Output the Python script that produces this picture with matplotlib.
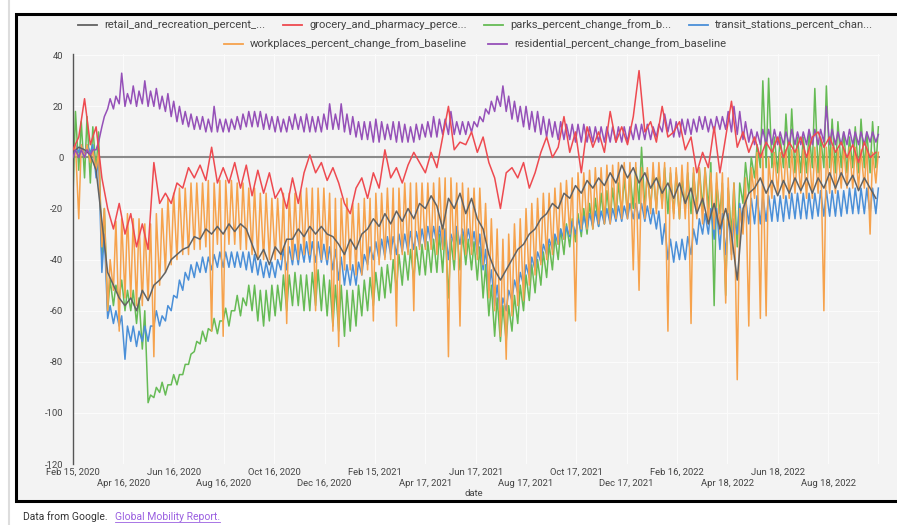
import numpy as np
import pandas as pd
import matplotlib
matplotlib.use("Agg")
import matplotlib.pyplot as plt
from matplotlib.lines import Line2D
from matplotlib.patches import Rectangle

plt.rcParams["font.family"] = ["Roboto", "DejaVu Sans"]

# readings, one row per 10 weeks, first week starts Feb 15, 2020
start_date = "2020-02-15"

# smoother series: one reading per week
retail = [
    2, 4, 3, 1, -5, -25, -45, -50, -55, -58,
    -55, -60, -52, -56, -50, -48, -45, -40, -38, -36,
    -35, -31, -32, -28, -30, -27, -30, -26, -29, -26,
    -28, -34, -40, -36, -42, -35, -38, -32, -32, -28,
    -31, -27, -30, -27, -30, -31, -34, -38, -32, -36,
    -30, -28, -24, -27, -22, -26, -21, -25, -20, -24,
    -18, -20, -15, -19, -28, -16, -20, -14, -22, -16,
    -24, -28, -38, -44, -48, -44, -40, -36, -34, -30,
    -28, -24, -22, -18, -20, -14, -16, -11, -14, -9,
    -12, -8, -11, -6, -10, -3, -8, -4, -10, -6,
    -12, -8, -14, -10, -16, -10, -18, -12, -22, -16,
    -26, -18, -28, -20, -30, -48, -20, -14, -12, -8,
    -14, -9, -15, -9, -14, -8, -13, -8, -14, -8,
    -12, -6, -12, -6, -11, -7, -13, -8, -12, -16,
]

grocery = [
    3, 8, 23, 5, 12, -8, -20, -28, -18, -30,
    -22, -35, -26, -36, -2, -18, -14, -18, -10, -12,
    -4, -8, -3, -9, 4, -10, -4, -10, -2, -12,
    -3, -15, -5, -14, -6, -16, -12, -20, -8, -18,
    -6, 1, -6, -2, -9, -4, -10, -18, -22, -12,
    -8, -16, -6, -12, 3, -8, -4, -10, -3, 2,
    -2, -6, 2, -4, 8, 20, 3, 6, 5, 10,
    2, 8, -2, -8, -20, -6, -4, -8, -2, -12,
    -6, 2, 8, 0, 4, 16, 2, 10, -6, 12,
    4, 10, 2, 18, 6, 12, 5, 16, 34, 10,
    14, 6, 20, 8, 10, 14, 3, 8, -6, 2,
    -4, 12, -6, 8, 22, 4, 10, 2, 8, 0,
    6, 2, 8, 0, 6, 2, 8, 0, 8, 10,
    4, 8, 2, 6, 0, 5, -2, 6, 0, 2,
]

# series with a strong weekly swing: lower and upper edge for every week
parks_upper = [
    18, 14, 16, 12, 10, -20, -48, -50, -48, -52,
    -52, -55, -60, -93, -90, -88, -89, -85, -85, -81,
    -77, -72, -68, -67, -63, -64, -59, -60, -54, -55,
    -50, -50, -52, -52, -50, -50, -46, -46, -45, -46,
    -46, -45, -44, -46, -48, -50, -50, -52, -52, -50,
    -48, -47, -45, -43, -42, -40, -38, -37, -36, -35,
    -34, -33, -32, -30, -28, -32, -28, -30, -32, -33,
    -35, -42, -50, -55, -58, -58, -54, -50, -46, -42,
    -40, -37, -34, -31, -28, -26, -24, -22, -20, -18,
    -16, -14, -13, -12, -10, -8, -6, -4, 4, -6,
    -6, -6, -4, -6, -6, -8, -6, -6, -4, -4,
    -2, -10, -10, -12, -10, -10, -2, 0, 5, 30,
    31, 8, 8, 17, 19, 8, 8, 10, 27, 8,
    28, 15, 14, 10, 8, 12, 15, 10, 14, 12,
]
parks_lower = [
    -15, -5, -8, -10, -5, -40, -60, -58, -55, -60,
    -60, -65, -75, -96, -94, -92, -93, -89, -89, -85,
    -81, -76, -73, -72, -68, -69, -64, -66, -60, -62,
    -58, -60, -64, -66, -64, -62, -60, -60, -58, -58,
    -60, -60, -58, -60, -62, -66, -68, -70, -68, -66,
    -62, -60, -58, -56, -55, -53, -52, -50, -48, -48,
    -46, -46, -45, -45, -45, -55, -44, -44, -42, -44,
    -48, -55, -62, -70, -72, -72, -68, -65, -60, -56,
    -53, -50, -47, -44, -40, -38, -35, -33, -31, -30,
    -28, -27, -26, -25, -24, -22, -22, -20, -18, -20,
    -20, -20, -18, -22, -22, -24, -20, -22, -20, -20,
    -20, -58, -22, -54, -30, -35, -18, -14, -8, -4,
    -4, -4, -6, -4, -4, -6, -6, -6, -4, -6,
    -4, -4, -6, -4, -6, -4, -6, -4, -6, -4,
]

transit_upper = [
    5, 5, 5, 5, 0, -30, -58, -60, -62, -66,
    -66, -68, -66, -66, -60, -62, -58, -54, -48, -45,
    -42, -41, -39, -39, -38, -37, -37, -37, -37, -37,
    -37, -38, -40, -41, -41, -40, -36, -35, -34, -34,
    -33, -33, -33, -34, -35, -36, -39, -42, -42, -41,
    -38, -35, -33, -32, -31, -31, -30, -30, -29, -29,
    -28, -27, -27, -27, -28, -30, -27, -28, -28, -29,
    -30, -36, -44, -50, -55, -52, -48, -45, -42, -39,
    -37, -34, -32, -30, -28, -27, -25, -24, -23, -22,
    -21, -21, -20, -20, -19, -19, -18, -18, -18, -19,
    -20, -21, -26, -32, -33, -32, -31, -28, -24, -22,
    -20, -20, -22, -22, -24, -18, -16, -16, -15, -15,
    -15, -15, -15, -15, -14, -14, -14, -14, -14, -13,
    -13, -13, -13, -13, -12, -12, -12, -12, -12, -12,
]
transit_lower = [
    0, 2, 1, 2, -8, -45, -63, -65, -66, -79,
    -72, -74, -72, -72, -66, -66, -64, -60, -55, -52,
    -48, -47, -45, -45, -44, -43, -43, -43, -43, -43,
    -44, -45, -46, -47, -47, -47, -44, -44, -42, -42,
    -41, -41, -41, -41, -42, -44, -48, -50, -50, -50,
    -46, -42, -40, -40, -39, -38, -38, -37, -37, -36,
    -35, -35, -34, -34, -35, -40, -34, -34, -34, -35,
    -38, -44, -52, -58, -62, -60, -56, -53, -50, -47,
    -44, -41, -38, -36, -34, -32, -31, -30, -29, -28,
    -27, -27, -26, -26, -25, -25, -24, -24, -24, -25,
    -26, -28, -34, -40, -41, -40, -40, -38, -34, -30,
    -30, -32, -36, -38, -38, -30, -27, -26, -26, -26,
    -25, -25, -25, -25, -24, -24, -24, -24, -24, -23,
    -23, -23, -23, -23, -22, -22, -22, -22, -22, -22,
]

workplaces_upper = [
    5, 5, 5, 3, 2, -20, -40, -25, -24, -22,
    -24, -24, -26, -26, -22, -20, -16, -14, -12, -12,
    -10, -10, -10, -9, -10, -9, -9, -9, -10, -10,
    -12, -12, -14, -14, -16, -16, -14, -14, -14, -13,
    -12, -12, -12, -12, -14, -16, -16, -16, -18, -18,
    -16, -16, -14, -14, -12, -12, -12, -10, -10, -10,
    -10, -10, -10, -8, -8, -8, -10, -10, -12, -12,
    -12, -18, -24, -28, -32, -30, -26, -24, -20, -18,
    -16, -14, -14, -12, -10, -9, -8, -6, -6, -5,
    -4, -4, -3, -3, -2, -2, -2, -2, -4, -4,
    -2, -2, -2, -4, -4, -3, -2, -4, -4, -4,
    -6, -6, -6, -8, -10, -20, -8, -4, 2, 2,
    0, 2, 2, 3, 3, 3, 3, 4, 4, 4,
    4, 4, 3, 4, 4, 4, 3, 4, 2, 2,
]
workplaces_lower = [
    0, -24, 0, -2, -5, -35, -60, -52, -68, -55,
    -55, -58, -58, -56, -78, -50, -45, -42, -40, -38,
    -38, -36, -36, -35, -68, -34, -70, -34, -34, -36,
    -36, -38, -40, -40, -40, -40, -40, -65, -40, -40,
    -38, -38, -60, -40, -40, -68, -74, -44, -44, -46,
    -46, -44, -64, -42, -40, -40, -66, -38, -38, -60,
    -36, -36, -36, -38, -36, -78, -40, -66, -38, -38,
    -40, -42, -55, -60, -70, -79, -62, -58, -56, -50,
    -46, -42, -40, -38, -34, -32, -30, -64, -28, -28,
    -28, -26, -26, -26, -24, -24, -24, -44, -52, -24,
    -22, -22, -20, -68, -24, -24, -24, -65, -24, -26,
    -26, -28, -30, -57, -40, -87, -30, -66, -16, -63,
    -62, -16, -14, -16, -16, -14, -14, -16, -16, -14,
    -60, -14, -14, -12, -12, -12, -12, -12, -30, -10,
]

residential_upper = [
    3, 3, 3, 3, 6, 16, 23, 24, 33, 25,
    28, 26, 30, 26, 27, 24, 25, 22, 20, 18,
    17, 16, 16, 15, 20, 15, 15, 15, 16, 17,
    18, 18, 18, 17, 16, 16, 15, 16, 17, 16,
    17, 16, 16, 17, 21, 17, 21, 17, 16, 14,
    14, 14, 15, 14, 13, 14, 14, 13, 12, 13,
    13, 14, 16, 15, 15, 18, 14, 14, 14, 14,
    16, 19, 22, 24, 28, 24, 22, 20, 20, 18,
    18, 16, 15, 14, 14, 13, 13, 13, 13, 12,
    12, 12, 12, 12, 12, 12, 12, 13, 13, 13,
    12, 13, 17, 15, 14, 15, 15, 15, 16, 16,
    15, 16, 16, 18, 20, 18, 14, 11, 10, 11,
    11, 11, 10, 10, 11, 10, 10, 11, 11, 11,
    20, 11, 10, 10, 11, 10, 10, 10, 10, 9,
]
residential_lower = [
    0, 0, 0, 1, 3, 12, 19, 19, 21, 20,
    21, 20, 21, 20, 20, 19, 18, 16, 14, 13,
    12, 11, 11, 10, 10, 10, 10, 10, 11, 11,
    12, 12, 12, 11, 11, 10, 10, 10, 11, 11,
    10, 10, 10, 10, 11, 11, 11, 10, 9, 8,
    7, 7, 6, 6, 7, 7, 6, 6, 6, 6,
    7, 8, 8, 8, 9, 9, 9, 9, 9, 10,
    12, 14, 17, 18, 20, 18, 15, 14, 12, 11,
    10, 9, 8, 8, 7, 7, 7, 6, 6, 6,
    6, 6, 6, 6, 6, 6, 6, 7, 7, 7,
    7, 8, 10, 10, 8, 8, 9, 9, 10, 11,
    10, 10, 11, 11, 10, 9, 7, 6, 5, 5,
    5, 5, 5, 5, 5, 5, 5, 5, 5, 5,
    6, 5, 5, 5, 5, 5, 5, 5, 6, 6,
]

legend_labels = [
    "retail_and_recreation_percent_...",
    "grocery_and_pharmacy_perce...",
    "parks_percent_change_from_b...",
    "transit_stations_percent_chan...",
    "workplaces_percent_change_from_baseline",
    "residential_percent_change_from_baseline",
]
colors = ["#626262", "#ee4a50", "#66bb55", "#4a8fd8", "#f6a24c", "#9550b8"]

tick_dates = [
    "2020-02-15", "2020-04-16", "2020-06-16", "2020-08-16", "2020-10-16",
    "2020-12-16", "2021-02-15", "2021-04-17", "2021-06-17", "2021-08-17",
    "2021-10-17", "2021-12-17", "2022-02-16", "2022-04-18", "2022-06-18",
    "2022-08-18", "2022-10-18",
]
tick_labels = [
    "Feb 15, 2020", "Apr 16, 2020", "Jun 16, 2020", "Aug 16, 2020", "Oct 16, 2020",
    "Dec 16, 2020", "Feb 15, 2021", "Apr 17, 2021", "Jun 17, 2021", "Aug 17, 2021",
    "Oct 17, 2021", "Dec 17, 2021", "Feb 16, 2022", "Apr 18, 2022", "Jun 18, 2022",
    "Aug 18, 2022", "",
]
y_ticks = [40, 20, 0, -20, -40, -60, -80, -100, -120]

weeks = pd.date_range(start_date, periods=len(retail), freq="7D")


def weekly_swing(lower, upper):
    """Put the lower edge on the week's first day and the upper edge mid-week."""
    x = np.column_stack([weeks.values, (weeks + pd.Timedelta(days=3)).values]).ravel()
    y = np.column_stack([lower, upper]).ravel()
    return x, y


W, H = 897, 525
fig = plt.figure(figsize=(W / 100, H / 100), dpi=100)
fig.patch.set_facecolor("white")

# page decorations: thin rule on the left and the framed panel (behind the axes)
fig.add_artist(Line2D([9 / W, 9 / W], [0, 1], color="#dddddd", lw=1.5, zorder=-2))
fig.add_artist(Rectangle((16 / W, 1 - 501 / H), (910 - 16) / W, (501 - 14) / H,
                         facecolor="#f3f3f3", edgecolor="black", lw=2.2, zorder=-1))

ax = fig.add_axes([73 / W, 1 - 464 / H, (880 - 73) / W, (464 - 54) / H])
ax.set_facecolor("#f3f3f3")

ax.axhline(0, color="#8a8a8a", lw=1.5, zorder=1)
lw = 1.1
ax.plot(*weekly_swing(parks_lower, parks_upper), color=colors[2], lw=lw, zorder=2)
ax.plot(*weekly_swing(transit_lower, transit_upper), color=colors[3], lw=lw, zorder=2)
ax.plot(*weekly_swing(workplaces_lower, workplaces_upper), color=colors[4], lw=lw, zorder=2)
ax.plot(weeks, retail, color=colors[0], lw=lw, zorder=3)
ax.plot(*weekly_swing(residential_lower, residential_upper), color=colors[5], lw=lw, zorder=3)
ax.plot(weeks, grocery, color=colors[1], lw=lw, zorder=3)

tks = pd.to_datetime(tick_dates)
ax.set_xticks(tks)
ax.set_xticklabels([lab if i % 2 == 0 else "\n" + lab for i, lab in enumerate(tick_labels)])
ax.set_xlim(pd.Timestamp("2020-02-15"), pd.Timestamp("2022-10-20"))
ax.set_ylim(-120, 40.5)
ax.set_yticks(y_ticks)
ax.set_yticklabels([str(v) for v in y_ticks])
ax.grid(True, color="#fbfbfb", lw=0.8, zorder=0)
ax.set_axisbelow(True)
ax.tick_params(length=0, labelsize=6.8, colors="#444444")
ax.tick_params(axis="x", pad=3)
ax.tick_params(axis="y", pad=7)
for s in ["top", "right", "bottom"]:
    ax.spines[s].set_visible(False)
ax.spines["left"].set_color("#555555")
ax.spines["left"].set_linewidth(1.0)

fig.text(474 / W, 1 - 494 / H, "date", ha="center", va="center", fontsize=6.8, color="#444444")

# legend drawn by hand: four entries on the first row, two centred below
legend_pos = [(78, 25), (283, 25), (484, 25), (689, 25), (224, 44), (488, 44)]
for (lx, ly), lab, col in zip(legend_pos, legend_labels, colors):
    fy = 1 - ly / H
    fig.add_artist(Line2D([lx / W, (lx + 19) / W], [fy, fy], color=col, lw=1.3))
    fig.text((lx + 26) / W, fy, lab, ha="left", va="center", fontsize=8.1, color="#444444")

t1 = fig.text(23 / W, 1 - 517 / H, "Data from Google.", ha="left", va="center",
              fontsize=7.5, color="#333333")
t2 = fig.text(115 / W, 1 - 517 / H, "Global Mobility Report.", ha="left", va="center",
              fontsize=7.5, color="#9a5fe0")
fig.canvas.draw()
bb = t2.get_window_extent()
uy = (bb.y0 + 0.5) / H
fig.add_artist(Line2D([bb.x0 / W, bb.x1 / W], [uy, uy], color="#9a5fe0", lw=0.6))

fig.savefig("out.png", dpi=100)
